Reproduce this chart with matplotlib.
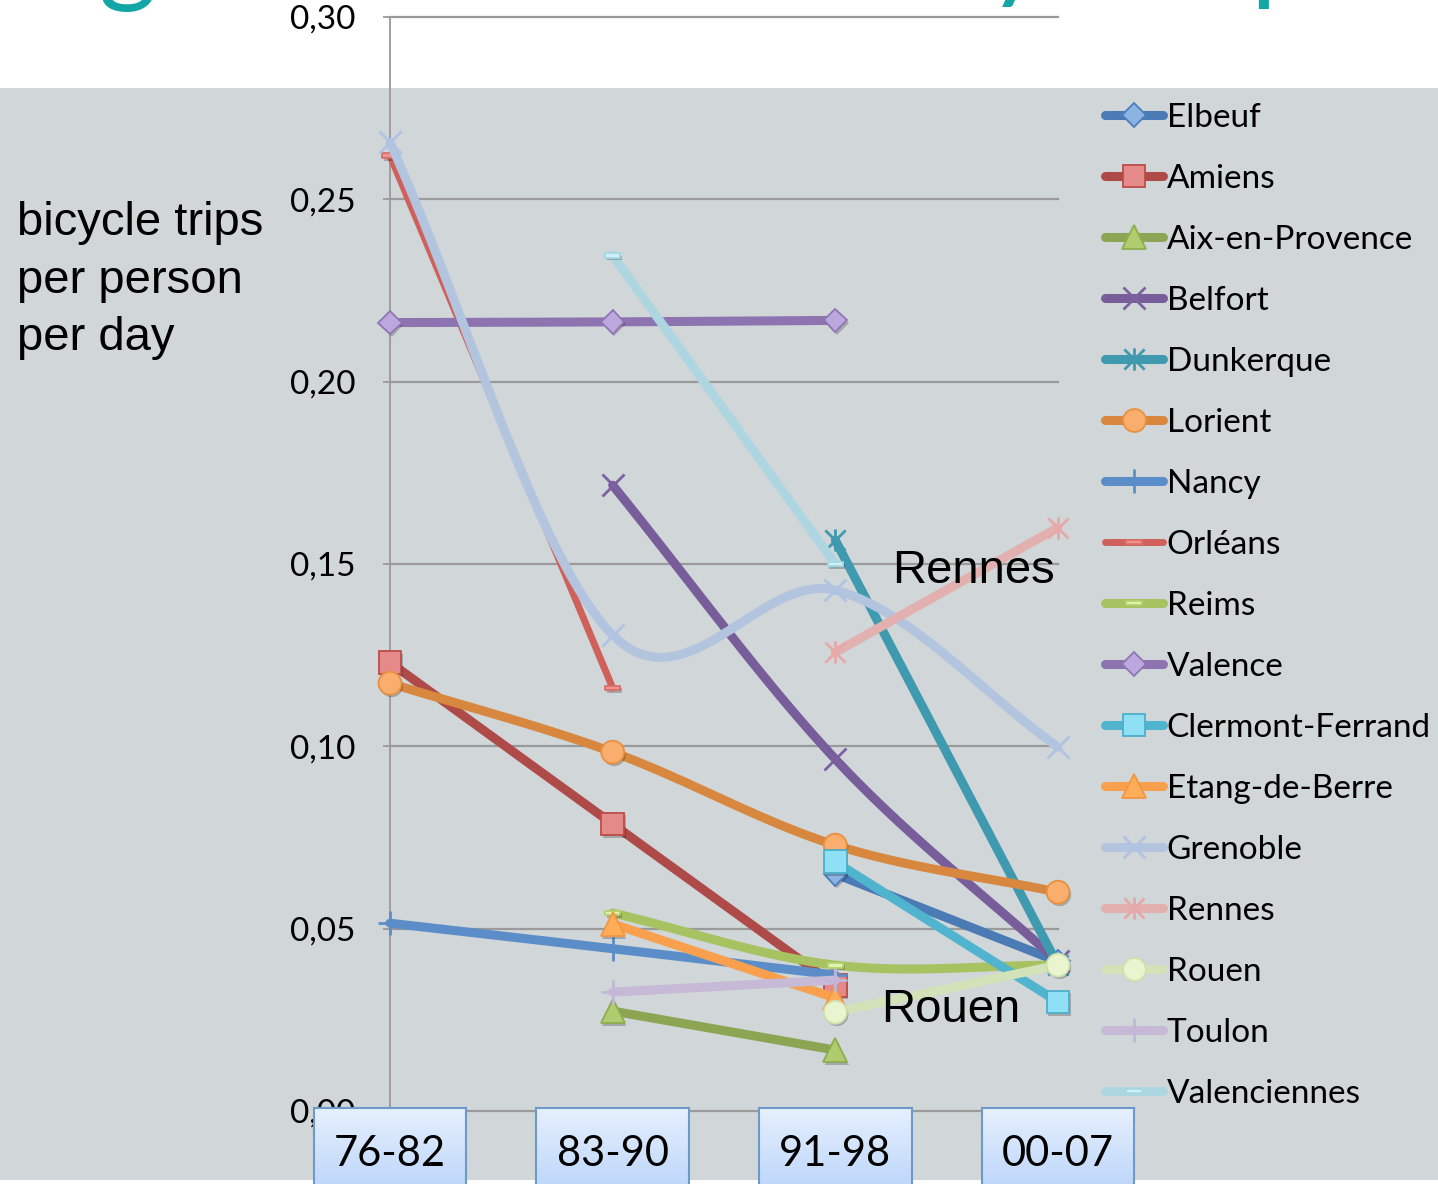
import numpy as np
import matplotlib
matplotlib.use("Agg")
import matplotlib.pyplot as plt
from matplotlib.lines import Line2D
from matplotlib.path import Path
from matplotlib.patches import Rectangle
from matplotlib.colors import LinearSegmentedColormap
import matplotlib.patheffects as pe

# ---- data: bicycle trips per person per day, by survey period ----
periods = ["76-82", "83-90", "91-98", "00-07"]
nan = np.nan
elbeuf = [nan, nan, 0.065, 0.041]
amiens = [0.123, 0.0787, 0.0345, nan]
aix_en_provence = [nan, 0.0274, 0.0167, nan]
belfort = [nan, 0.1716, 0.0965, 0.041]
dunkerque = [nan, nan, 0.1565, 0.040]
lorient = [0.1173, 0.0984, 0.0729, 0.060]
nancy = [0.0515, 0.0445, 0.0373, nan]
orleans = [0.262, 0.116, nan, nan]
reims = [nan, 0.0543, 0.0400, 0.0400]
valence = [0.2162, 0.2164, 0.2168, nan]
clermont_ferrand = [nan, nan, 0.0683, 0.0299]
etang_de_berre = [nan, 0.0513, 0.031, nan]
grenoble = [0.2656, 0.1305, 0.1428, 0.0998]
rennes = [nan, nan, 0.1258, 0.160]
rouen = [nan, nan, 0.0271, 0.040]
toulon = [nan, 0.0326, 0.0359, nan]
valenciennes = [nan, 0.2346, 0.150, nan]

cities = ["Elbeuf", "Amiens", "Aix-en-Provence", "Belfort", "Dunkerque",
          "Lorient", "Nancy", "Orléans", "Reims", "Valence",
          "Clermont-Ferrand", "Etang-de-Berre", "Grenoble", "Rennes",
          "Rouen", "Toulon", "Valenciennes"]
values = [elbeuf, amiens, aix_en_provence, belfort, dunkerque, lorient,
          nancy, orleans, reims, valence, clermont_ferrand, etang_de_berre,
          grenoble, rennes, rouen, toulon, valenciennes]
y_ticks = [0.00, 0.05, 0.10, 0.15, 0.20, 0.25, 0.30]

# ---- marker shapes ----
STAR = Path([(-1, -1), (1, 1), (-1, 1), (1, -1), (0, -1.1), (0, 1.1)],
            [Path.MOVETO, Path.LINETO] * 3)
DASH = Path([(-1, -0.32), (1, -0.32), (1, 0.32), (-1, 0.32), (-1, -0.32)],
            [Path.MOVETO, Path.LINETO, Path.LINETO, Path.LINETO, Path.CLOSEPOLY])

# line colour, marker, marker face, marker edge, marker size
styles = [
    ("#4A7BB5", "D", "#8DB3E2", "#4A7EBB", 12),
    ("#AE4B48", "s", "#E48A89", "#BE4B48", 16.5),
    ("#8CA552", "^", "#AFCD6E", "#8EAD4E", 17.5),
    ("#775E9A", "x", "none", "#7D60A0", 16),
    ("#3F9AB0", STAR, "none", "#3F9AB0", 16),
    ("#D8873E", "o", "#FAAE6E", "#E8903E", 16.5),
    ("#5B8EC8", "+", "none", "#5B8EC8", 17),
    ("#CF605A", DASH, "#F3928F", "#D8706B", 11),
    ("#A6C261", DASH, "#DDF4AC", "#B3D172", 11),
    ("#8D73B0", "D", "#BCA8DE", "#8F76B3", 12),
    ("#50B4CF", "s", "#8FE0F4", "#4BB0CB", 16.5),
    ("#F8A04E", "^", "#FFAD58", "#F4963F", 17.5),
    ("#B3C4DF", "x", "none", "#AFC3E2", 16),
    ("#E2B0AE", STAR, "none", "#E6A9A7", 16),
    ("#D3E2B8", "o", "#E8F5CE", "#CFE0AC", 16.5),
    ("#C6BAD6", "+", "none", "#C3B6D6", 17),
    ("#AED6E0", DASH, "#D0F0F8", "#A5D8E6", 11),
]
LW = 6.5


def smooth(xs, ys, n=40):
    """Cardinal (Catmull-Rom) spline through the points, like a smoothed line."""
    xs = np.asarray(xs, float)
    ys = np.asarray(ys, float)
    if len(xs) < 3:
        return xs, ys
    m = np.empty_like(ys)
    m[1:-1] = (ys[2:] - ys[:-2]) / 2.0
    m[0] = ys[1] - ys[0]
    m[-1] = ys[-1] - ys[-2]
    out_x, out_y = [], []
    for k in range(len(xs) - 1):
        t = np.linspace(0, 1, n)
        h00 = 2 * t**3 - 3 * t**2 + 1
        h10 = t**3 - 2 * t**2 + t
        h01 = -2 * t**3 + 3 * t**2
        h11 = t**3 - t**2
        out_x.append(xs[k] + t * (xs[k + 1] - xs[k]))
        out_y.append(h00 * ys[k] + h10 * m[k] + h01 * ys[k + 1] + h11 * m[k + 1])
    return np.concatenate(out_x), np.concatenate(out_y)


W, H = 1438, 1184
fig = plt.figure(figsize=(W / 100, H / 100), dpi=100)
fig.patch.set_facecolor("white")

# slide background band
fig.add_artist(Rectangle((0, 4 / H), 1, 1 - 88 / H - 4 / H,
                         transform=fig.transFigure, facecolor="#D1D6D9",
                         edgecolor="none", zorder=-10))

# slide title running above the chart, only its descenders in view
title_kw = dict(color="#13A6A6", fontsize=80, family="Lato", va="baseline")
fig.text(98 / W, 1 + 8 / H, "g", **title_kw)
fig.text(988 / W, 1 + 12 / H, "y", **title_kw)
fig.text(1250 / W, 1 + 10 / H, "p", **title_kw)

ax = fig.add_axes([390 / W, 1 - 1111 / H, (1058 - 390) / W, (1111 - 17) / H])
ax.set_facecolor("none")
ax.set_xlim(0, len(periods) - 1)
ax.set_ylim(0, 0.30)

for spine in ["top", "right", "bottom"]:
    ax.spines[spine].set_visible(False)
ax.spines["left"].set_color("#9A9A9A")
ax.spines["left"].set_linewidth(1.3)

ax.set_yticks(y_ticks)
ax.set_yticklabels([f"{v:.2f}".replace(".", ",") for v in y_ticks],
                   family="Lato", fontsize=24)
ax.tick_params(axis="y", length=5, width=1.3, color="#9A9A9A", pad=20)
ax.set_xticks(range(len(periods)))
ax.tick_params(axis="x", length=0, labelbottom=False)
ax.yaxis.grid(True, color="#9A9A9A", linewidth=1.6)
for gl in ax.get_ygridlines():
    gl.set_clip_on(False)
ax.set_axisbelow(True)

shadow = [pe.SimplePatchShadow(offset=(1.2, -1.8), shadow_rgbFace="k", alpha=0.22),
          pe.Normal()]

handles = []
x_all = np.arange(len(periods))
for idx, (name, vals, st) in enumerate(zip(cities, values, styles)):
    color, marker, mfc, mec, ms = st
    vals = np.asarray(vals, float)
    ok = ~np.isnan(vals)
    xs, ys = x_all[ok], vals[ok]
    sx, sy = smooth(xs, ys)
    z = 3 + idx * 0.1
    lw = 5.0 if name == "Orléans" else LW
    ax.plot(sx, sy, color=color, lw=lw, solid_capstyle="round",
            solid_joinstyle="round", clip_on=False, zorder=z)
    filled = mfc != "none"
    mk = ax.plot(xs, ys, linestyle="none", marker=marker, ms=ms,
                 markerfacecolor=mfc, markeredgecolor=mec,
                 markeredgewidth=1.3 if filled else 2.0,
                 clip_on=False, zorder=z + 0.05)[0]
    if filled:
        mk.set_path_effects(shadow)
    handles.append(Line2D([0], [0], color=color, lw=lw, solid_capstyle="round",
                          marker=marker, ms=ms, markerfacecolor=mfc,
                          markeredgecolor=mec,
                          markeredgewidth=1.3 if filled else 2.0))

leg = fig.legend(handles, cities, loc="upper left",
                 bbox_to_anchor=(1105 / W, 1 - 103 / H), frameon=False,
                 prop={"family": "Lato", "size": 24}, handlelength=1.75,
                 handletextpad=0.1, labelspacing=0.93, borderpad=0,
                 borderaxespad=0)

# in-chart labels
ax.text(2.256, 0.1447, "Rennes", family="Liberation Sans", fontsize=34,
        va="baseline", ha="left", zorder=10)
ax.text(2.206, 0.0244, "Rouen", family="Liberation Sans", fontsize=34,
        va="baseline", ha="left", zorder=10)

fig.text(17 / W, 1 - 201 / H, "bicycle trips\nper person\nper day",
         family="Liberation Sans", fontsize=34, va="top", ha="left",
         linespacing=1.4)

# period boxes along the bottom
grad = LinearSegmentedColormap.from_list("box", ["#B3D0FA", "#E6F0FD"])
box_w = 0.685
fig.canvas.draw()
inv = fig.transFigure.inverted()
for i, label in enumerate(periods):
    x0 = inv.transform(ax.transData.transform((i - box_w / 2, 0)))[0]
    x1 = inv.transform(ax.transData.transform((i + box_w / 2, 0)))[0]
    top = 1 - 1108 / H
    bottom = -0.02
    bax = fig.add_axes([x0, bottom, x1 - x0, top - bottom])
    bax.imshow(np.linspace(0, 1, 64).reshape(-1, 1), cmap=grad, aspect="auto",
               extent=[0, 1, 0, 1], origin="lower")
    bax.set_xticks([])
    bax.set_yticks([])
    for sp in bax.spines.values():
        sp.set_color("#6E9ACB")
        sp.set_linewidth(1.5)
    fig.text((x0 + x1) / 2, 1 - 1154 / H, label, family="Lato", fontsize=30,
             ha="center", va="center", zorder=20)

fig.savefig("out.png", dpi=100)
